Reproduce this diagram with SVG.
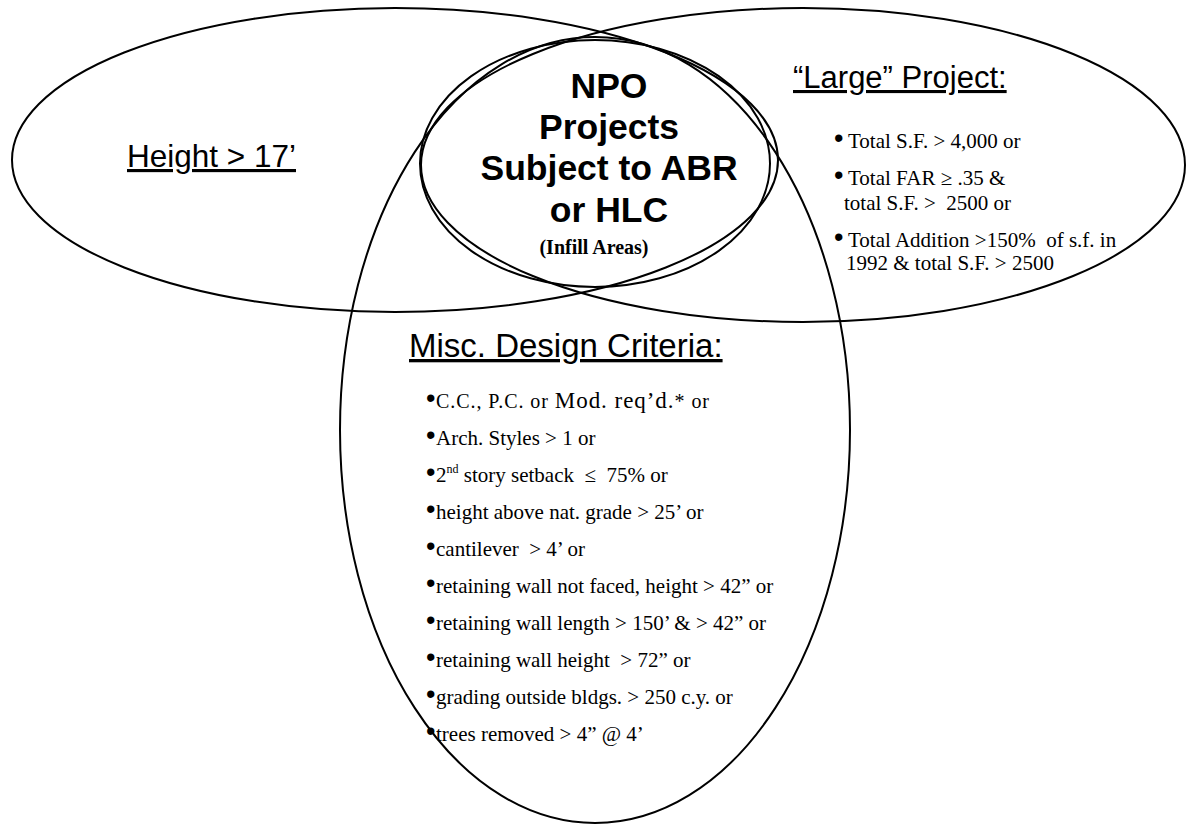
<svg xmlns="http://www.w3.org/2000/svg" width="1186" height="825" viewBox="0 0 1186 825">
<style>
.ell{fill:none;stroke:#000;stroke-width:2}
.head{font-family:"Liberation Sans",Arial,sans-serif;fill:#000;text-decoration:underline}
.npo{font-family:"Liberation Sans",Arial,sans-serif;font-weight:bold;font-size:35.5px;fill:#000;text-anchor:middle}
.sub{font-family:"Liberation Serif","Times New Roman",serif;font-weight:bold;font-size:20px;fill:#000;text-anchor:middle}
.item{font-family:"Liberation Serif","Times New Roman",serif;font-size:21px;fill:#000}
.bul{font-family:"Liberation Sans",Arial,sans-serif;font-size:27px;fill:#000}
</style>
<rect width="1186" height="825" fill="#fff"/>
<g id="connectors"></g>
<g id="height">
<ellipse class="ell" cx="395" cy="160" rx="383" ry="152"/>
<text class="head" x="127" y="167" font-size="31.5">Height &gt; 17’</text>
</g>
<g id="large">
<ellipse class="ell" cx="803" cy="165" rx="382" ry="157"/>
<text class="head" x="793" y="88" font-size="31">“Large” Project:</text>
<text class="bul" x="834" y="147">•</text>
<text class="item" x="848" y="148">Total S.F. &gt; 4,000 or</text>
<text class="bul" x="834" y="184">•</text>
<text class="item" x="848" y="185">Total FAR ≥ .35 &amp;</text>
<text class="item" x="844" y="210" xml:space="preserve">total S.F. &gt;  2500 or</text>
<text class="bul" x="834" y="246">•</text>
<text class="item" x="848" y="247" xml:space="preserve">Total Addition &gt;150%  of s.f. in</text>
<text class="item" x="846" y="270">1992 &amp; total S.F. &gt; 2500</text>
</g>
<g id="misc">
<ellipse class="ell" cx="595" cy="430" rx="255" ry="393"/>
<text class="head" x="409" y="357" font-size="33">Misc. Design Criteria:</text>
<text class="bul" x="426" y="407">•</text>
<text class="item" x="436" y="408" textLength="273" lengthAdjust="spacing" xml:space="preserve"><tspan font-size="20">C.C., P.C. or </tspan><tspan font-size="23">Mod. req’d.</tspan><tspan font-size="20">* or</tspan></text>
<text class="bul" x="426" y="444">•</text>
<text class="item" x="436" y="445">Arch. Styles &gt; 1 or</text>
<text class="bul" x="426" y="481">•</text>
<text class="item" x="436" y="482" xml:space="preserve">2<tspan font-size="12" dy="-9">nd</tspan><tspan dy="9"> story setback  ≤  75% or</tspan></text>
<text class="bul" x="426" y="518">•</text>
<text class="item" x="436" y="519">height above nat. grade &gt; 25’ or</text>
<text class="bul" x="426" y="555">•</text>
<text class="item" x="436" y="556" xml:space="preserve">cantilever  &gt; 4’ or</text>
<text class="bul" x="426" y="592">•</text>
<text class="item" x="436" y="593">retaining wall not faced, height &gt; 42” or</text>
<text class="bul" x="426" y="629">•</text>
<text class="item" x="436" y="630">retaining wall length &gt; 150’ &amp; &gt; 42” or</text>
<text class="bul" x="426" y="666">•</text>
<text class="item" x="436" y="667" xml:space="preserve">retaining wall height  &gt; 72” or</text>
<text class="bul" x="426" y="703">•</text>
<text class="item" x="436" y="704">grading outside bldgs. &gt; 250 c.y. or</text>
<text class="bul" x="426" y="740">•</text>
<text class="item" x="436" y="741">trees removed &gt; 4” @ 4’</text>
</g>
<g id="npo">
<ellipse class="ell" cx="595" cy="163.5" rx="175" ry="123.5"/>
<text class="npo" x="609" y="98">NPO</text>
<text class="npo" x="609" y="139">Projects</text>
<text class="npo" x="609" y="180">Subject to ABR</text>
<text class="npo" x="609" y="222">or HLC</text>
<text class="sub" x="594" y="254">(Infill Areas)</text>
</g>
</svg>
